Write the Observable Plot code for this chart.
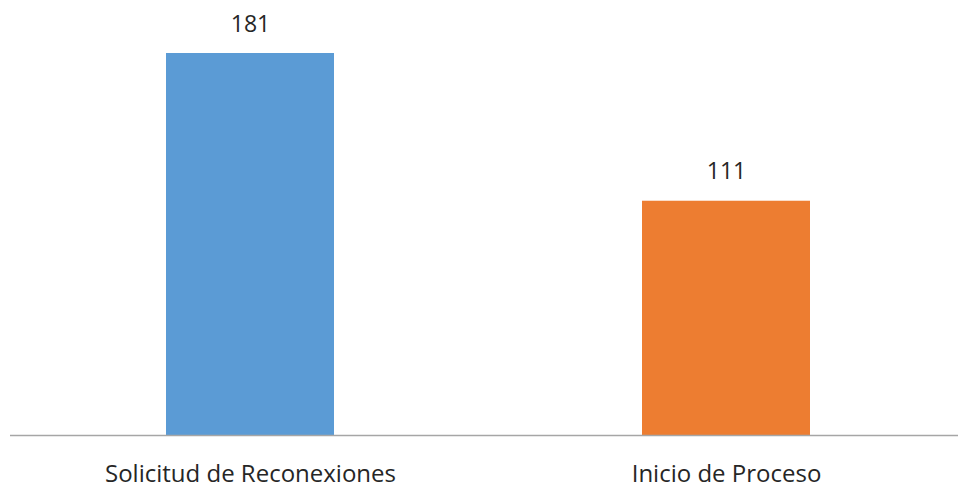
<!DOCTYPE html>
<html>
<head>
<meta charset="utf-8">
<script src="https://cdn.jsdelivr.net/npm/d3@7"></script>
<script src="https://cdn.jsdelivr.net/npm/@observablehq/plot@0.6"></script>
<style>
  html, body { margin: 0; padding: 0; background: #fff; }
  #chart svg { display: block; }
</style>
</head>
<body>
<div id="chart"></div>
<script>
const categories = ["Solicitud de Reconexiones", "Inicio de Proceso"];
const values = [181, 111];
const colors = ["#5B9BD5", "#ED7D31"];

const data = categories.map((c, i) => ({category: c, value: values[i], color: colors[i]}));

const chart = Plot.plot({
  width: 958,
  height: 489,
  marginTop: 53,
  marginBottom: 54,
  marginLeft: 10,
  marginRight: 0,
  style: {fontFamily: "'Open Sans', sans-serif", fontSize: "23px", color: "#262626", background: "#fff"},
  x: {domain: categories, range: [10, 966], paddingInner: 0.647, paddingOuter: 0.3277, label: null},
  y: {domain: [0, d3.max(values)], axis: null},
  marks: [
    Plot.barY(data, {x: "category", y: "value", fill: "color", insetBottom: -1}),
    Plot.ruleY([0], {stroke: "#a6a6a6", strokeWidth: 1.3}),
    Plot.text(data, {x: "category", y: "value", text: d => String(d.value), lineAnchor: "bottom", dy: -22, fontSize: 23, fill: "#262626"}),
    Plot.axisX({tickSize: 0, tickPadding: 29, fontSize: 24, label: null, fill: "#262626"})
  ]
});
document.getElementById("chart").appendChild(chart);
</script>
</body>
</html>
